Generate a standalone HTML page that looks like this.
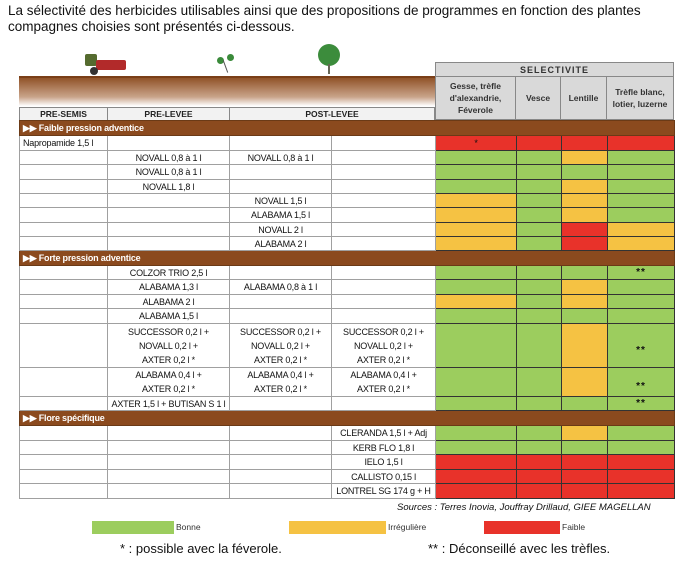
<!DOCTYPE html>
<html><head><meta charset="utf-8"><style>
*{margin:0;padding:0;box-sizing:border-box}
body{width:700px;height:573px;background:#fff;position:relative;font-family:"Liberation Sans",sans-serif;overflow:hidden}
.a{position:absolute}
table{position:absolute;left:19px;top:120px;border-collapse:collapse;table-layout:fixed;width:655px}
td{border:1px solid #a0a0a0;font-size:9px;letter-spacing:-0.2px;text-align:center;padding:0;line-height:12px;color:#111;white-space:nowrap;overflow:hidden}
td.l{text-align:left;padding-left:3px}
tr.b td{background:#8b4a1e;color:#fff;font-weight:bold;text-align:left;padding-left:3px;border-color:#6b3a16}
td.G,td.Y,td.R{border-color:#333}
.G{background:#9ccd5e}.Y{background:#f5c243}.R{background:#e8322a}
.st{font-weight:bold;font-size:10px;letter-spacing:1px}
.h{border:1px solid #888;background:#d9d9d9;font-size:8.5px;font-weight:bold;color:#333;display:flex;align-items:center;justify-content:center;text-align:center;line-height:12px}
td.m{line-height:14px}
</style></head><body>
<div class="a" style="left:8px;top:3px;font-size:13.5px;line-height:16px;color:#111">La sélectivité des herbicides utilisables ainsi que des propositions de programmes en fonction des plantes<br>compagnes choisies sont présentés ci-dessous.</div>
<div class="a" style="left:85px;top:54px;width:12px;height:12px;background:#556b2f;border-radius:2px"></div>
<div class="a" style="left:96px;top:60px;width:30px;height:10px;background:#b22a2a;border-radius:2px"></div>
<div class="a" style="left:90px;top:67px;width:8px;height:8px;background:#333;border-radius:50%"></div>
<div class="a" style="left:217px;top:57px;width:7px;height:7px;background:#3a8a3a;border-radius:50%"></div>
<div class="a" style="left:227px;top:54px;width:7px;height:7px;background:#3a8a3a;border-radius:50%"></div>
<div class="a" style="left:225px;top:60px;width:1px;height:13px;background:#555;transform:rotate(-20deg)"></div>
<div class="a" style="left:318px;top:44px;width:22px;height:22px;background:#3c8c3c;border-radius:50%"></div>
<div class="a" style="left:328px;top:64px;width:2px;height:10px;background:#665"></div>
<div class="a" style="left:19px;top:76px;width:416px;height:30px;background:linear-gradient(#8b4a1e,#c9a48a 70%,#fff)"></div>
<div class="a" style="left:19px;top:76px;width:416px;height:2px;background:#7a3f18"></div>
<div class="a h st" style="left:435px;top:62px;width:239px;height:15px;font-size:9px">SELECTIVITE</div>
<div class="a h" style="left:435px;top:76px;width:81px;height:44px">Gesse, trèfle<br>d'alexandrie,<br>Féverole</div>
<div class="a h" style="left:515px;top:76px;width:46px;height:44px">Vesce</div>
<div class="a h" style="left:560px;top:76px;width:47px;height:44px">Lentille</div>
<div class="a h" style="left:606px;top:76px;width:68px;height:44px">Trèfle blanc,<br>lotier, luzerne</div>
<div class="a h" style="left:19px;top:107px;width:89px;height:14px;background:#f2f2f2;color:#222">PRE-SEMIS</div>
<div class="a h" style="left:107px;top:107px;width:123px;height:14px;background:#f2f2f2;color:#222">PRE-LEVEE</div>
<div class="a h" style="left:229px;top:107px;width:206px;height:14px;background:#f2f2f2;color:#222">POST-LEVEE</div>
<table>
<colgroup><col style="width:88px"><col style="width:122px"><col style="width:102px"><col style="width:104px"><col style="width:81px"><col style="width:45px"><col style="width:46px"><col style="width:67px"></colgroup>
<tr class="b" style="height:15px"><td colspan="8">▶▶ Faible pression adventice</td></tr>
<tr style="height:15px"><td class="l">Napropamide 1,5 l</td><td></td><td></td><td></td><td class="R">*</td><td class="R"></td><td class="R"></td><td class="R"></td></tr>
<tr style="height:14px"><td></td><td>NOVALL 0,8 à 1 l</td><td>NOVALL 0,8 à 1 l</td><td></td><td class="G"></td><td class="G"></td><td class="Y"></td><td class="G"></td></tr>
<tr style="height:15px"><td></td><td>NOVALL 0,8 à 1 l</td><td></td><td></td><td class="G"></td><td class="G"></td><td class="G"></td><td class="G"></td></tr>
<tr style="height:14px"><td></td><td>NOVALL 1,8 l</td><td></td><td></td><td class="G"></td><td class="G"></td><td class="Y"></td><td class="G"></td></tr>
<tr style="height:14px"><td></td><td></td><td>NOVALL 1,5 l</td><td></td><td class="Y"></td><td class="G"></td><td class="Y"></td><td class="G"></td></tr>
<tr style="height:15px"><td></td><td></td><td>ALABAMA 1,5 l</td><td></td><td class="Y"></td><td class="G"></td><td class="Y"></td><td class="G"></td></tr>
<tr style="height:14px"><td></td><td></td><td>NOVALL 2 l</td><td></td><td class="Y"></td><td class="G"></td><td class="R"></td><td class="Y"></td></tr>
<tr style="height:14px"><td></td><td></td><td>ALABAMA 2 l</td><td></td><td class="Y"></td><td class="G"></td><td class="R"></td><td class="Y"></td></tr>
<tr class="b" style="height:15px"><td colspan="8">▶▶ Forte pression adventice</td></tr>
<tr style="height:14px"><td></td><td>COLZOR TRIO 2,5 l</td><td></td><td></td><td class="G"></td><td class="G"></td><td class="G"></td><td class="G st">**</td></tr>
<tr style="height:15px"><td></td><td>ALABAMA 1,3 l</td><td>ALABAMA 0,8 à 1 l</td><td></td><td class="G"></td><td class="G"></td><td class="Y"></td><td class="G"></td></tr>
<tr style="height:14px"><td></td><td>ALABAMA 2 l</td><td></td><td></td><td class="Y"></td><td class="G"></td><td class="Y"></td><td class="G"></td></tr>
<tr style="height:15px"><td></td><td>ALABAMA 1,5 l</td><td></td><td></td><td class="G"></td><td class="G"></td><td class="G"></td><td class="G"></td></tr>
<tr style="height:44px"><td></td><td class="m">SUCCESSOR 0,2 l +<br>NOVALL 0,2 l +<br>AXTER 0,2 l *</td><td class="m">SUCCESSOR 0,2 l +<br>NOVALL 0,2 l +<br>AXTER 0,2 l *</td><td class="m">SUCCESSOR 0,2 l +<br>NOVALL 0,2 l +<br>AXTER 0,2 l *</td><td class="G"></td><td class="G"></td><td class="Y"></td><td class="G st" style="padding-top:10px">**</td></tr>
<tr style="height:29px"><td></td><td class="m">ALABAMA 0,4 l +<br>AXTER 0,2 l *</td><td class="m">ALABAMA 0,4 l +<br>AXTER 0,2 l *</td><td class="m">ALABAMA 0,4 l +<br>AXTER 0,2 l *</td><td class="G"></td><td class="G"></td><td class="Y"></td><td class="G st" style="padding-top:10px">**</td></tr>
<tr style="height:14px"><td></td><td>AXTER 1,5 l + BUTISAN S 1 l</td><td></td><td></td><td class="G"></td><td class="G"></td><td class="G"></td><td class="G st">**</td></tr>
<tr class="b" style="height:15px"><td colspan="8">▶▶ Flore spécifique</td></tr>
<tr style="height:15px"><td></td><td></td><td></td><td>CLERANDA 1,5 l + Adj</td><td class="G"></td><td class="G"></td><td class="Y"></td><td class="G"></td></tr>
<tr style="height:14px"><td></td><td></td><td></td><td>KERB FLO 1,8 l</td><td class="G"></td><td class="G"></td><td class="G"></td><td class="G"></td></tr>
<tr style="height:15px"><td></td><td></td><td></td><td>IELO 1,5 l</td><td class="R"></td><td class="R"></td><td class="R"></td><td class="R"></td></tr>
<tr style="height:14px"><td></td><td></td><td></td><td>CALLISTO 0,15 l</td><td class="R"></td><td class="R"></td><td class="R"></td><td class="R"></td></tr>
<tr style="height:15px"><td></td><td></td><td></td><td>LONTREL SG 174 g + H</td><td class="R"></td><td class="R"></td><td class="R"></td><td class="R"></td></tr>
</table>
<div class="a" style="left:397px;top:502px;font-size:9.5px;font-style:italic;color:#111">Sources : Terres Inovia, Jouffray Drillaud, GIEE MAGELLAN</div>
<div class="a G" style="left:92px;top:521px;width:82px;height:13px"></div>
<div class="a" style="left:176px;top:522px;font-size:8.5px;color:#333">Bonne</div>
<div class="a Y" style="left:289px;top:521px;width:97px;height:13px"></div>
<div class="a" style="left:388px;top:522px;font-size:8.5px;color:#333">Irrégulière</div>
<div class="a R" style="left:484px;top:521px;width:76px;height:13px"></div>
<div class="a" style="left:562px;top:522px;font-size:8.5px;color:#333">Faible</div>
<div class="a" style="left:120px;top:541px;font-size:13px;color:#111">* : possible avec la féverole.</div>
<div class="a" style="left:428px;top:541px;font-size:13px;color:#111">** : Déconseillé avec les trèfles.</div>
</body></html>
